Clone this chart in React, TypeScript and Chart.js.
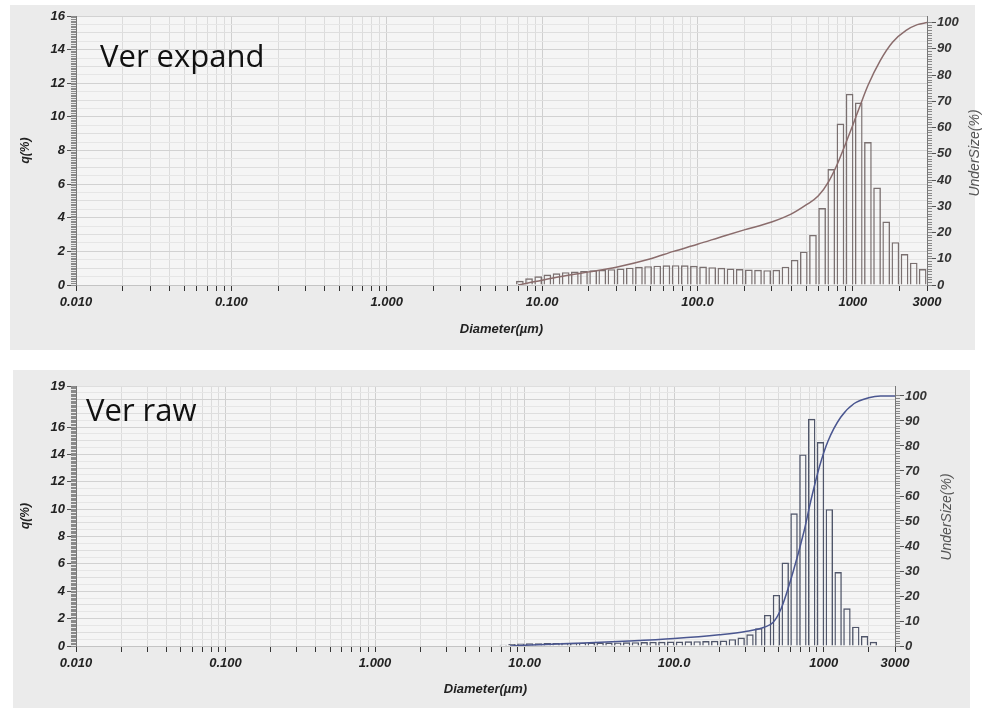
import React, { useEffect, useRef } from 'react';
import { Chart, registerables } from 'chart.js';

Chart.register(...registerables);

// ---------------- data ----------------
// Channel edges (µm) of the size classes that hold data
const BIN_EDGES_UM = [
  6.72, 7.697, 8.816, 10.097, 11.565, 13.246, 15.172, 17.377, 19.904, 22.797,
  26.111, 29.907, 34.255, 39.234, 44.938, 51.471, 58.953, 67.523, 77.339, 88.583,
  101.46, 116.21, 133.103, 152.453, 174.616, 200.0, 229.075, 262.376, 300.518, 344.206,
  394.244, 451.556, 517.2, 592.387, 678.504, 777.141, 890.116, 1019.515, 1167.725, 1337.481,
  1531.914, 1754.613, 2009.687, 2301.841, 2636.467, 3000.0,
];

// q(%) per class, "Ver expand"
const EXPAND_Q = [
  0.25, 0.4, 0.52, 0.62, 0.7, 0.76, 0.8, 0.84, 0.87, 0.9,
  0.94, 0.98, 1.03, 1.08, 1.12, 1.15, 1.17, 1.18, 1.17, 1.14,
  1.1, 1.06, 1.02, 0.98, 0.95, 0.92, 0.9, 0.88, 0.9, 1.09,
  1.49, 1.98, 2.98, 4.58, 6.9, 9.6, 11.37, 10.85, 8.5, 5.8,
  3.77, 2.55, 1.84, 1.33, 0.95,
];

// q(%) per class, "Ver raw"
const RAW_Q = [
  0.1, 0.15, 0.18, 0.2, 0.2, 0.22, 0.22, 0.23, 0.23, 0.24,
  0.24, 0.25, 0.25, 0.26, 0.27, 0.28, 0.29, 0.3, 0.31, 0.32,
  0.33, 0.34, 0.35, 0.36, 0.38, 0.4, 0.5, 0.62, 0.85, 1.3,
  2.27, 3.73, 6.1, 9.7, 14.0, 16.6, 14.9, 10.0, 5.4, 2.75,
  1.41, 0.73, 0.31, 0, 0,
];

// UnderSize(%) curves
const EXPAND_CUM_D = [7, 8, 10, 12, 15, 20, 30, 50, 70, 100, 150, 200, 300, 400, 500, 600, 700, 800, 900, 1000, 1100, 1250, 1500, 1800, 2200, 2600, 3000];
const EXPAND_CUM_PCT = [0, 0.7, 1.8, 2.8, 3.8, 5, 6.8, 10, 12.8, 15.5, 18.8, 21, 24, 27, 30.5, 34, 39.5, 46.5, 54, 61, 67.5, 76, 85.5, 92.5, 97, 99.2, 100];

const RAW_CUM_D = [8, 10, 20, 50, 100, 200, 300, 400, 460, 520, 620, 740, 820, 940, 1070, 1300, 1600, 2000, 2400, 3000];
const RAW_CUM_PCT = [0, 0.3, 1, 2, 3, 4.5, 5.8, 7.5, 9.5, 15, 29, 46, 58, 72, 82, 91.5, 97, 99.3, 100, 100];

// tick labels
const X_MAJOR_TICKS = [0.01, 0.1, 1, 10, 100, 1000, 3000];
const X_MAJOR_LABELS = ['0.010', '0.100', '1.000', '10.00', '100.0', '1000', '3000'];
const X_DECADES = [0.01, 0.1, 1, 10, 100, 1000];
const EXPAND_Q_TICKS = [0, 2, 4, 6, 8, 10, 12, 14, 16];
const RAW_Q_TICKS = [0, 2, 4, 6, 8, 10, 12, 14, 16, 19];
const UNDERSIZE_TICKS = [0, 10, 20, 30, 40, 50, 60, 70, 80, 90, 100];

// ---------------- styles ----------------
const PANEL_BG = '#ebebeb';
const PLOT_BG = '#f5f5f5';
const FAMILY = '"Liberation Sans", Arial, Helvetica, sans-serif';
const TICK_FONT = { family: FAMILY, size: 13, style: 'italic' as const, weight: 'bold' as const };
const TITLE_FONT = { family: FAMILY, size: 12, style: 'italic' as const, weight: 'bold' as const };

type PanelSpec = {
  label: string;
  q: number[];
  cumD: number[];
  cumPct: number[];
  qMax: number;
  qTicks: number[];
  pctMax: number;
  barColor: string;
  lineColor: string;
  width: number;
  height: number;
  padding: { left: number; right: number; top: number; bottom: number };
  xAxisHeight: number;
  labelPos: [number, number];
  labelSize: number;
  underSizePos: [number, number];
};

const EXPAND_SPEC: PanelSpec = {
  label: 'Ver expand',
  q: EXPAND_Q,
  cumD: EXPAND_CUM_D,
  cumPct: EXPAND_CUM_PCT,
  qMax: 16,
  qTicks: EXPAND_Q_TICKS,
  pctMax: 102.5,
  barColor: '#7a7070',
  lineColor: '#8a6c6c',
  width: 988,
  height: 355,
  padding: { left: 14, right: 20, top: 16, bottom: 14 },
  xAxisHeight: 56,
  labelPos: [100, 67],
  labelSize: 31,
  underSizePos: [975, 153],
};

const RAW_SPEC: PanelSpec = {
  label: 'Ver raw',
  q: RAW_Q,
  cumD: RAW_CUM_D,
  cumPct: RAW_CUM_PCT,
  qMax: 19,
  qTicks: RAW_Q_TICKS,
  pctMax: 104,
  barColor: '#50566a',
  lineColor: '#4a5690',
  width: 988,
  height: 353,
  padding: { left: 14, right: 52, top: 26, bottom: 12 },
  xAxisHeight: 55,
  labelPos: [86, 61],
  labelSize: 31,
  underSizePos: [947, 157],
};

function buildChart(canvas: HTMLCanvasElement, s: PanelSpec) {
  const centers = s.q.map((_, i) => Math.sqrt(BIN_EDGES_UM[i] * BIN_EDGES_UM[i + 1]));
  const barData = s.q.map((v, i) => ({ x: centers[i], y: v }));
  const lineData = s.cumD.map((d, i) => ({ x: d, y: s.cumPct[i] }));

  const minor: number[] = [];
  X_DECADES.forEach((dec) => {
    for (let m = 2; m <= 9; m++) {
      const v = dec * m;
      if (v < 3000) minor.push(v);
    }
  });
  const xTickVals = [...X_MAJOR_TICKS, ...minor].sort((a, b) => a - b);
  const labelMap = new Map<number, string>(X_MAJOR_TICKS.map((v, i) => [v, X_MAJOR_LABELS[i]]));
  const majorSet = new Set(X_MAJOR_TICKS);

  const qStrip: number[] = [];
  for (let i = 0; i <= Math.round(s.qMax * 10); i++) qStrip.push(i / 10);
  const pctStrip: number[] = [];
  for (let i = 0; i <= 100; i++) pctStrip.push(i);

  const deco = {
    id: 'deco',
    beforeDraw(chart: any) {
      const { ctx, chartArea: a } = chart;
      ctx.save();
      ctx.fillStyle = PLOT_BG;
      ctx.fillRect(a.left, a.top, a.right - a.left, a.bottom - a.top);
      ctx.restore();
    },
    afterDraw(chart: any) {
      const ctx = chart.ctx;
      ctx.save();
      ctx.fillStyle = '#111';
      ctx.font = `${s.labelSize}px "Open Sans", "Noto Sans", sans-serif`;
      ctx.textAlign = 'left';
      ctx.textBaseline = 'alphabetic';
      ctx.fillText(s.label, s.labelPos[0], s.labelPos[1]);
      ctx.translate(s.underSizePos[0], s.underSizePos[1]);
      ctx.rotate(-Math.PI / 2);
      ctx.font = `italic 14px ${FAMILY}`;
      ctx.fillStyle = '#555';
      ctx.textAlign = 'center';
      ctx.textBaseline = 'middle';
      ctx.fillText('UnderSize(%)', 0, 0);
      ctx.restore();
    },
  };

  return new Chart(canvas, {
    type: 'bar',
    data: {
      datasets: [
        {
          type: 'line',
          data: lineData,
          xAxisID: 'x',
          yAxisID: 'y2',
          borderColor: s.lineColor,
          borderWidth: 1.5,
          pointRadius: 0,
          cubicInterpolationMode: 'monotone',
          fill: false,
          order: 0,
        } as any,
        {
          type: 'bar',
          data: barData,
          xAxisID: 'xb',
          yAxisID: 'y',
          backgroundColor: 'rgba(0,0,0,0)',
          borderColor: s.barColor,
          borderWidth: 1.4,
          borderSkipped: 'start',
          grouped: false,
          barPercentage: 0.86,
          categoryPercentage: 1,
          order: 1,
        } as any,
      ],
    },
    options: {
      responsive: false,
      animation: false,
      events: [],
      layout: { padding: s.padding },
      plugins: { legend: { display: false }, tooltip: { enabled: false } },
      scales: {
        x: {
          type: 'logarithmic',
          position: 'bottom',
          min: 0.01,
          max: 3000,
          offset: false,
          afterBuildTicks: (sc: any) => {
            sc.ticks = xTickVals.map((v) => ({ value: v }));
          },
          afterFit: (sc: any) => {
            sc.height = s.xAxisHeight;
          },
          ticks: {
            autoSkip: false,
            maxRotation: 0,
            minRotation: 0,
            padding: 4,
            font: TICK_FONT,
            color: '#222',
            callback: (v: any) => labelMap.get(v) ?? '',
          },
          grid: {
            offset: false,
            color: (ctx: any) => (ctx.tick && majorSet.has(ctx.tick.value) ? '#cfcfcf' : '#dcdcdc'),
            tickColor: '#333',
            tickLength: 6,
            lineWidth: 1,
          },
          border: { display: true, color: '#c4c4c4' },
          title: { display: true, text: 'Diameter(µm)', font: { ...TITLE_FONT, size: 13 }, color: '#222', padding: { top: 4, bottom: 4 } },
        },
        xb: {
          type: 'logarithmic',
          display: false,
          min: 0.01,
          max: 3000,
          offset: false,
          grid: { offset: false },
          afterBuildTicks: (sc: any) => {
            sc.ticks = [{ value: 0.01 }, { value: 3000 }];
          },
        },
        yStrip: {
          type: 'linear',
          position: 'left',
          weight: 0,
          min: 0,
          max: s.qMax,
          afterBuildTicks: (sc: any) => {
            sc.ticks = qStrip.map((v) => ({ value: v }));
          },
          afterFit: (sc: any) => {
            sc.width = 5;
          },
          ticks: { display: false, autoSkip: false },
          grid: {
            drawOnChartArea: true,
            color: (ctx: any) => {
              const v = ctx.tick ? ctx.tick.value : 0;
              const r10 = Math.round(v * 10);
              if (r10 % 20 === 0) return '#d2d2d2';
              if (r10 % 10 === 0) return '#dedede';
              if (r10 % 5 === 0) return '#e6e6e6';
              return 'rgba(0,0,0,0)';
            },
            tickColor: '#8a8a8a',
            tickLength: 5,
          },
          border: { display: true, color: '#777' },
        },
        y: {
          type: 'linear',
          position: 'left',
          weight: 1,
          min: 0,
          max: s.qMax,
          afterBuildTicks: (sc: any) => {
            sc.ticks = s.qTicks.map((v) => ({ value: v }));
          },
          afterFit: (sc: any) => {
            sc.width = 57;
          },
          ticks: { autoSkip: false, padding: 2, font: TICK_FONT, color: '#222' },
          grid: { drawOnChartArea: false, tickLength: 4, tickColor: '#555' },
          border: { display: false },
          title: { display: true, text: 'q(%)', font: TITLE_FONT, color: '#222', padding: { top: 4, bottom: 4 } },
        },
        y2Strip: {
          type: 'linear',
          position: 'right',
          weight: 0,
          min: 0,
          max: s.pctMax,
          afterBuildTicks: (sc: any) => {
            sc.ticks = pctStrip.map((v) => ({ value: v }));
          },
          afterFit: (sc: any) => {
            sc.width = 5;
          },
          ticks: { display: false, autoSkip: false },
          grid: { drawOnChartArea: false, tickColor: '#8a8a8a', tickLength: 5 },
          border: { display: true, color: '#777' },
        },
        y2: {
          type: 'linear',
          position: 'right',
          weight: 1,
          min: 0,
          max: s.pctMax,
          afterBuildTicks: (sc: any) => {
            sc.ticks = UNDERSIZE_TICKS.map((v) => ({ value: v }));
          },
          afterFit: (sc: any) => {
            sc.width = 36;
          },
          ticks: { autoSkip: false, padding: 1, font: TICK_FONT, color: '#333' },
          grid: { drawOnChartArea: false, tickLength: 4, tickColor: '#555' },
          border: { display: false },
        },
      },
    } as any,
    plugins: [deco as any],
  });
}

function ChartPanel({ spec, top }: { spec: PanelSpec; top: number }) {
  const ref = useRef<HTMLCanvasElement>(null);
  useEffect(() => {
    if (!ref.current) return;
    const c = buildChart(ref.current, spec);
    return () => c.destroy();
  }, [spec]);
  return (
    <canvas
      ref={ref}
      width={spec.width}
      height={spec.height}
      style={{ position: 'absolute', left: 0, top, width: spec.width, height: spec.height }}
    />
  );
}

export default function App() {
  return (
    <div style={{ position: 'absolute', left: 0, top: 0, width: 988, height: 713, background: '#ffffff', overflow: 'hidden' }}>
      <div style={{ position: 'absolute', left: 10, top: 5, width: 965, height: 345, background: PANEL_BG }} />
      <div style={{ position: 'absolute', left: 13, top: 370, width: 957, height: 338, background: PANEL_BG }} />
      <ChartPanel spec={EXPAND_SPEC} top={0} />
      <ChartPanel spec={RAW_SPEC} top={360} />
    </div>
  );
}
